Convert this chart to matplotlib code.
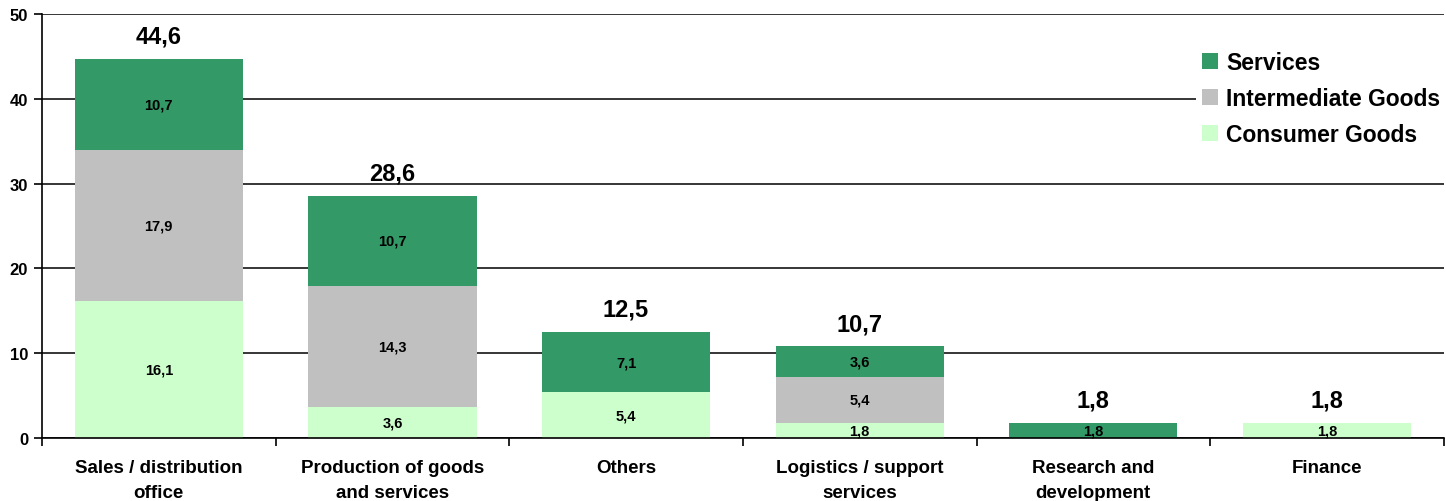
import matplotlib.pyplot as plt
import numpy as np

plt.rcParams['font.family'] = ['Liberation Sans', 'DejaVu Sans']
plt.rcParams['font.weight'] = 'bold'

categories = ["Sales / distribution\noffice", "Production of goods\nand services", "Others",
              "Logistics / support\nservices", "Research and\ndevelopment", "Finance"]
consumer = [16.1, 3.6, 5.4, 1.8, 0, 1.8]
intermediate = [17.9, 14.3, 0, 5.4, 0, 0]
services = [10.7, 10.7, 7.1, 3.6, 1.8, 0]
totals = [44.6, 28.6, 12.5, 10.7, 1.8, 1.8]
yticks = [0, 10, 20, 30, 40, 50]

c_serv = "#339966"
c_inter = "#c0c0c0"
c_cons = "#ccffcc"

fig = plt.figure(figsize=(14.46, 5.02), dpi=100)
ax = fig.add_axes([0.029, 0.1255, 0.9695, 0.8445])

x = np.arange(len(categories))
w = 0.72
cons = np.array(consumer)
inter = np.array(intermediate)
serv = np.array(services)

b1 = ax.bar(x, cons, w, color=c_cons, label="Consumer Goods", zorder=2)
b2 = ax.bar(x, inter, w, bottom=cons, color=c_inter, label="Intermediate Goods", zorder=2)
b3 = ax.bar(x, serv, w, bottom=cons + inter, color=c_serv, label="Services", zorder=2)

# segment labels
for vals, bottoms in [(cons, np.zeros(len(x))), (inter, cons), (serv, cons + inter)]:
    for i in range(len(x)):
        if vals[i] > 0:
            ax.text(x[i], bottoms[i] + vals[i] / 2, f"{vals[i]:.1f}".replace(".", ","),
                    ha="center", va="center", fontsize=10.5, fontweight="bold", zorder=3)

# totals
stack = cons + inter + serv
for i in range(len(x)):
    ax.text(x[i], stack[i] + 1.9, f"{totals[i]:.1f}".replace(".", ","),
            ha="center", va="baseline", fontsize=17, fontweight="bold")

ax.set_xlim(-0.5, len(x) - 0.5)
ax.set_ylim(0, 50)
ax.set_yticks(yticks)
ax.set_yticklabels([str(t) for t in yticks], fontsize=12, fontweight="bold")
ax.yaxis.grid(True, color="black", linewidth=1.1, zorder=0)
ax.set_axisbelow(True)

ax.set_xticks(x)
ax.set_xticklabels(categories, fontsize=13.5, fontweight="bold", linespacing=1.6)
ax.tick_params(axis="x", which="major", length=0, pad=15)
ax.set_xticks(np.arange(len(x) + 1) - 0.5, minor=True)
ax.tick_params(axis="x", which="minor", length=6, width=1.2, direction="out")
ax.tick_params(axis="y", length=6, width=1.2, direction="out", pad=4)

for s in ["top", "right"]:
    ax.spines[s].set_visible(False)
ax.spines["left"].set_linewidth(1.2)
ax.spines["bottom"].set_linewidth(1.2)

leg = ax.legend(handles=[b3, b2, b1], loc="upper right",
                bbox_to_anchor=(1.0, 1 - 46 / 502), bbox_transform=fig.transFigure,
                frameon=True, fontsize=16.5, handlelength=0.7, handleheight=0.7,
                handletextpad=0.35, labelspacing=0.58, borderpad=0.25, borderaxespad=0.0)
leg.get_frame().set_edgecolor("none")
leg.get_frame().set_facecolor("white")
leg.get_frame().set_alpha(1)
leg.get_frame().set_boxstyle("square", pad=0)
for t in leg.get_texts():
    t.set_fontweight("bold")

fig.savefig("out.png", dpi=100)
